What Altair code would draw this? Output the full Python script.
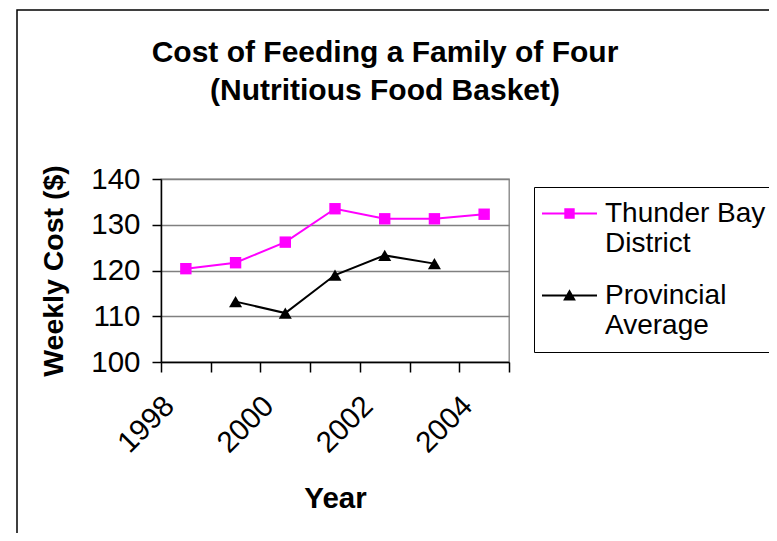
import altair as alt
import pandas as pd

years = [1998, 1999, 2000, 2001, 2002, 2003, 2004]
thunder_bay = [120.4, 121.7, 126.2, 133.5, 131.3, 131.3, 132.3]
provincial = [None, 113.2, 110.7, 119.0, 123.3, 121.5, None]
series_names = ["Thunder Bay|District", "Provincial|Average"]
series_colors = ["#FF00FF", "#000000"]
marker_shapes = ["square", "triangle-up"]
legend_shapes = [
    "M-2.75,-0.1H2.75V0.1H-2.75Z M-0.52,-0.52H0.52V0.52H-0.52Z",
    "M-2.75,-0.1H2.75V0.1H-2.75Z M0,-0.62L0.64,0.5H-0.64Z",
]
y_ticks = [100, 110, 120, 130, 140]
x_boundaries = [1997.5 + i for i in range(8)]
title_lines = ["Cost of Feeding a Family of Four", "(Nutritious Food Basket)"]

rows = []
for yr, a, b in zip(years, thunder_bay, provincial):
    rows.append({"year": yr, "series": series_names[0], "cost": a})
    if b is not None:
        rows.append({"year": yr, "series": series_names[1], "cost": b})
df = pd.DataFrame(rows)

FONT = "Liberation Sans"

x_enc = alt.X(
    "year:Q",
    scale=alt.Scale(domain=[1997.5, 2004.5], nice=False, zero=False),
    axis=alt.Axis(
        values=x_boundaries,
        labelExpr="(datum.value + 0.5) % 2 == 0 ? format(datum.value + 0.5, 'd') : ''",
        labelAngle=315, labelAlign="right", labelBaseline="middle",
        labelOffset=8, labelPadding=29, labelOverlap=False,
        labelFontSize=29.5, grid=False, tickSize=10,
        title="Year", titleFontSize=29.5, titleFontWeight="bold",
        titleY=145, titleBaseline="alphabetic",
    ),
)
y_enc = alt.Y(
    "cost:Q",
    scale=alt.Scale(domain=[100, 140], nice=False, zero=False),
    axis=alt.Axis(
        values=y_ticks, tickSize=9, labelPadding=12, labelFontSize=29.5,
        grid=True, gridColor="#808080", gridWidth=1.3,
        title="Weekly Cost ($)", titleFontSize=28.5, titleFontWeight="bold",
        titleX=-108, titleBaseline="middle", titleAngle=270,
    ),
)
color_scale = alt.Scale(domain=series_names, range=series_colors)

leg = alt.Legend(
    title=None, orient="none", legendX=373, legendY=8,
    padding=12.5, strokeColor="#000000", fillColor="#FFFFFF",
    symbolSize=400, symbolStrokeWidth=0, symbolOffset=9, symbolOpacity=1,
    labelOffset=21.5, labelFontSize=28, labelFont=FONT, labelColor="#000000",
    labelExpr="split(datum.label, '|')", labelBaseline="middle",
    rowPadding=24, labelLimit=400,
)
# legend-only layer: filtered to no rows, the legend entries come from the scale domain
legend_layer = alt.Chart(df).transform_filter(
    alt.datum.cost < 0
).mark_point(filled=True).encode(
    x=x_enc, y=y_enc,
    color=alt.Color("series:N", scale=color_scale, legend=leg),
    shape=alt.Shape("series:N", scale=alt.Scale(domain=series_names, range=legend_shapes), legend=leg),
)

lines = alt.Chart(df).mark_line(strokeWidth=2).encode(
    x=x_enc, y=y_enc,
    color=alt.Color("series:N", scale=color_scale),
)

points_tb = alt.Chart(df).transform_filter(
    alt.datum.series == series_names[0]
).mark_point(filled=True, size=130, shape=marker_shapes[0], opacity=1).encode(
    x=x_enc, y=y_enc,
    color=alt.Color("series:N", scale=color_scale),
)
points_pr = alt.Chart(df).transform_filter(
    alt.datum.series == series_names[1]
).mark_point(filled=True, size=170, shape=marker_shapes[1], opacity=1).encode(
    x=x_enc, y=y_enc,
    color=alt.Color("series:N", scale=color_scale),
)

frame = alt.Chart(pd.DataFrame({"frame": [0]})).mark_rect(
    fillOpacity=0, stroke="#000000", strokeWidth=1.5
).encode(
    x=alt.value(-144), x2=alt.value(900), y=alt.value(-169), y2=alt.value(700)
)

chart = alt.layer(frame, legend_layer, lines, points_tb, points_pr).properties(
    width=348, height=183,
    autosize=alt.AutoSizeParams(type="none"),
    padding={"left": 153, "top": 171, "right": 260, "bottom": 171},
    title=alt.TitleParams(
        text=title_lines, fontSize=30, font=FONT, fontWeight="bold",
        lineHeight=38.5, anchor="middle", dx=50, offset=20, dy=117,
        baseline="top", color="#000000",
    ),
).configure(
    font=FONT,
).configure_view(
    stroke="#808080", strokeWidth=1.3,
).configure_axis(
    labelFont=FONT, titleFont=FONT, labelColor="#000000", titleColor="#000000",
    domainColor="#000000", domainWidth=1.5, tickColor="#000000", tickWidth=1.5,
)

chart.save("out.html", embed_options={"renderer": "svg", "actions": False})
